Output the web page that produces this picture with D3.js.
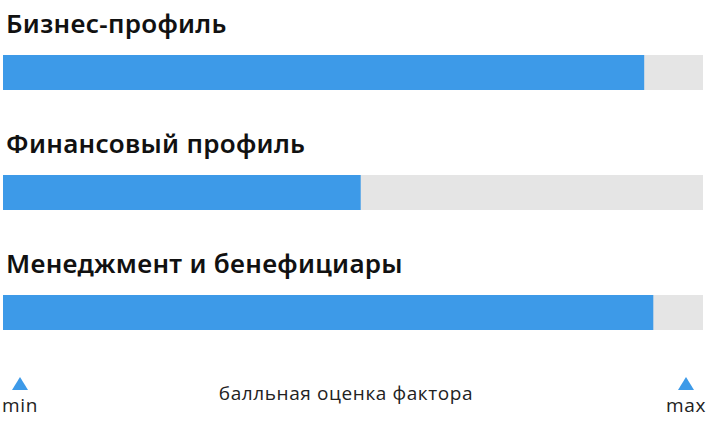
<!DOCTYPE html>
<html>
<head>
<meta charset="utf-8">
<script src="https://cdn.jsdelivr.net/npm/d3@7"></script>
<style>
  html, body { margin: 0; padding: 0; background: #fff; }
  svg { display: block; }
</style>
</head>
<body>
<svg id="chart"></svg>
<script>
// factor names and their scores on a min..max scale (0..1)
const factors = ["Бизнес-профиль", "Финансовый профиль", "Менеджмент и бенефициары"];
const scores = [0.916, 0.511, 0.929];
const scaleLabels = ["min", "max"];
const axisTitle = "балльная оценка фактора";

const width = 706, height = 424;
const blue = "#3d9ae8", track = "#e5e5e5";

const svg = d3.select("#chart")
    .attr("width", width)
    .attr("height", height);

const x = d3.scaleLinear()
    .domain([0, 1])
    .range([3, 703]);

// rows: one band per factor
const y = d3.scaleBand()
    .domain(factors)
    .range([55, 415]);

const barH = 35;

const rows = svg.append("g")
  .selectAll("g")
  .data(factors.map((name, i) => ({ name, value: scores[i] })))
  .join("g")
    .attr("transform", d => `translate(0,${y(d.name)})`);

rows.append("text")
    .attr("x", 6)
    .attr("y", -22)
    .attr("fill", "#111")
    .style("font", "600 26px 'Noto Sans', sans-serif")
    .style("letter-spacing", "0.3px")
    .text(d => d.name);

rows.append("rect")
    .attr("x", x(0))
    .attr("width", x(1) - x(0))
    .attr("height", barH)
    .attr("fill", track);

rows.append("rect")
    .attr("x", x(0))
    .attr("width", d => x(d.value) - x(0))
    .attr("height", barH)
    .attr("fill", blue);

// min / max markers
const markX = d3.scaleLinear().domain([0, 1]).range([20, 686]);
const marks = svg.append("g")
  .selectAll("g")
  .data(scaleLabels)
  .join("g")
    .attr("transform", (d, i) => `translate(${markX(i)},0)`);

marks.append("path")
    .attr("d", "M-8,390L0,377L8,390Z")
    .attr("fill", blue);

marks.append("text")
    .attr("y", 412)
    .attr("text-anchor", "middle")
    .attr("fill", "#222")
    .style("font", "19px 'Open Sans', sans-serif")
    .style("letter-spacing", "0.6px")
    .text(d => d);

svg.append("text")
    .attr("x", 346)
    .attr("y", 400)
    .attr("text-anchor", "middle")
    .attr("fill", "#222")
    .style("font", "19px 'Open Sans', sans-serif")
    .style("letter-spacing", "0.6px")
    .text(axisTitle);
</script>
</body>
</html>
